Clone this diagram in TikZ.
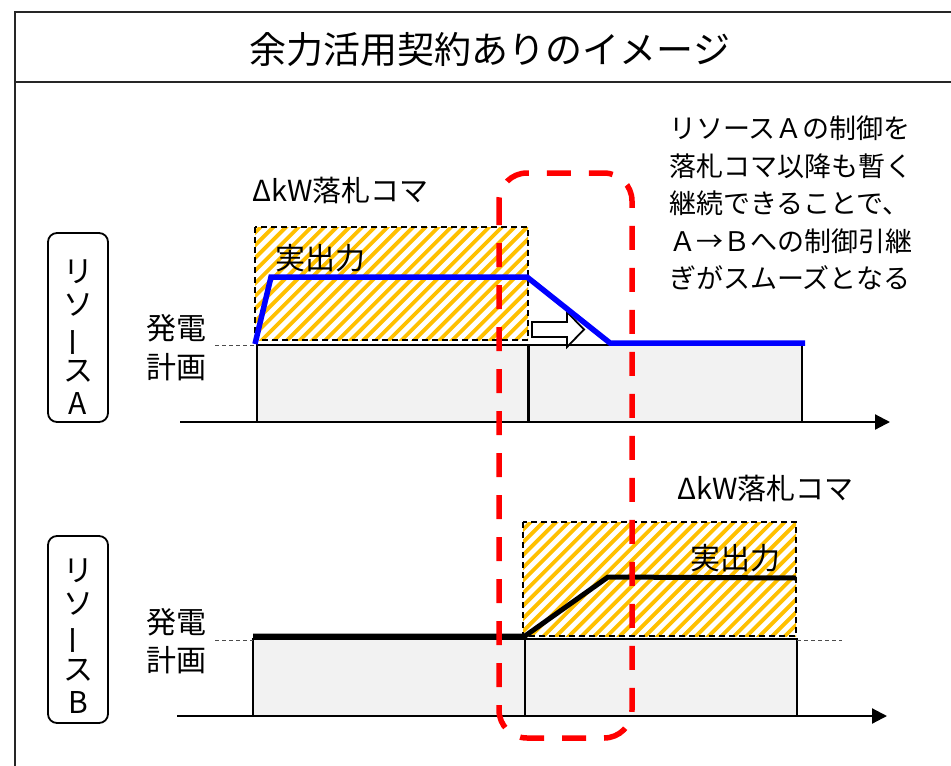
\documentclass[tikz,border=0pt]{standalone}
\usepackage{fontspec}
\setmainfont{Noto Sans CJK JP}
\usetikzlibrary{arrows.meta}
\definecolor{boxgray}{HTML}{F2F2F2}
\definecolor{hatchorange}{HTML}{FFC000}
\definecolor{ctrlblue}{HTML}{0000FF}
\definecolor{focusred}{HTML}{FF0000}
\begin{document}
\begin{tikzpicture}[x=1pt,y=-1pt,
  frameline/.style={line width=2pt, draw=black!85},
  planbox/.style={draw=black, line width=2pt, fill=boxgray},
  hatchline/.style={draw=hatchorange, line width=3.8pt},
  hatchframe/.style={draw=black, line width=1.8pt, dash pattern=on 6pt off 4pt},
  planline/.style={draw=black!70, line width=1pt, dash pattern=on 4pt off 3pt},
  axisline/.style={draw=black, line width=2.2pt, -{Triangle[length=15pt,width=15pt]}},
  outline/.style={draw=ctrlblue, line width=5.5pt, line join=miter},
  outlineb/.style={draw=black, line width=5pt, line join=miter},
  focus/.style={draw=focusred, line width=5.5pt, dash pattern=on 24pt off 18pt, rounded corners=28pt},
  resbox/.style={draw=black, line width=1.8pt, rounded corners=9pt, minimum width=60pt, inner sep=0pt},
  vlab/.style={font=\fontsize{30}{33}\selectfont, align=center, inner sep=0pt},
  lbl/.style={font=\fontsize{30}{38.5}\selectfont, align=center, inner sep=0pt},
  bidlbl/.style={font=\fontsize{29}{32}\selectfont, inner sep=0pt, anchor=west},
  outlbl/.style={font=\fontsize{30}{32}\selectfont, inner sep=0pt, anchor=west},
  note/.style={font=\fontsize{27}{37.5}\selectfont, align=left, inner sep=0pt, anchor=west},
  titlefont/.style={font=\fontsize{37}{40}\selectfont, inner sep=0pt}
]
\useasboundingbox (0,0) rectangle (951,766);
\fill[white] (0,0) rectangle (951,766);

% frame
\draw[frameline] (951,12) -- (15,12) -- (15,766);
\draw[frameline] (15,82) -- (951,82);
\node[titlefont] (title) at (490,50) {余力活用契約ありのイメージ};

% ---------------- Resource A ----------------
\node[resbox, minimum height=189pt] (boxa) at (78,327.5) {};
\node[vlab] (laba) at (78,337.5) {リ\\ソ\\\smash{\rotatebox[origin=c]{90}{ー}}\\ス\\A};
\node[lbl] (plana) at (176,347.5) {発電\\計画};

\draw[planbox] (257,345) rectangle (528.5,422);
\draw[planbox] (528.5,345) rectangle (802,422);
\draw[black, line width=3.2pt] (528.5,345) -- (528.5,422);

\begin{scope}
  \clip (255,227) rectangle (528,340);
  \foreach \i in {0,12.7,...,420} \draw[hatchline] (130+\i,345) -- ++(130,-130);
\end{scope}
\draw[hatchframe] (255,227) rectangle (528,340);
\node[bidlbl] (bida) at (252,190) {ΔkW落札コマ};
\node[outlbl] (outa) at (275,258) {実出力};

\coordinate (pa0) at (215,345);
\coordinate (pa1) at (257,345);
\draw[planline] (pa0) -- (pa1);

\draw[fill=white, draw=black, line width=1.8pt, line join=miter]
  (532,322) -- (567,322) -- (567,312) -- (584,329.5) -- (567,347) -- (567,337) -- (532,337) -- cycle;

\coordinate (a0) at (255,344);
\coordinate (a1) at (271,277);
\coordinate (a2) at (527,277);
\coordinate (a3) at (610,343);
\coordinate (a4) at (805,343);
\draw[outline] (a0) -- (a1) -- (a2) -- (a3) -- (a4);

\coordinate (axa0) at (180,422);
\coordinate (axa1) at (890,422);
\draw[axisline] (axa0) -- (axa1);

\node[note] (notetext) at (669,203) {リソースＡの制御を\\落札コマ以降も暫く\\継続できることで、\\Ａ→Ｂへの制御引継\\ぎがスムーズとなる};

% ---------------- Resource B ----------------
\node[resbox, minimum height=187pt] (boxb) at (78,629.5) {};
\node[vlab] (labb) at (78,636) {リ\\ソ\\\smash{\rotatebox[origin=c]{90}{ー}}\\ス\\B};
\node[lbl] (planb) at (176,641) {発電\\計画};

\draw[planbox] (253,639) rectangle (525,716);
\draw[planbox] (525,639) rectangle (797,716);

\begin{scope}
  \clip (523,522) rectangle (796,636);
  \foreach \i in {0,12.7,...,420} \draw[hatchline] (400+\i,640) -- ++(130,-130);
\end{scope}
\draw[hatchframe] (523,522) rectangle (796,636);
\node[bidlbl] (bidb) at (677,488) {ΔkW落札コマ};
\node[outlbl] (outb) at (690,558) {実出力};

\coordinate (pb0) at (215,640);
\coordinate (pb1) at (253,640);
\coordinate (pb2) at (797,640);
\coordinate (pb3) at (842,640);
\draw[planline] (pb0) -- (pb1);
\draw[planline] (pb2) -- (pb3);

\coordinate (b0) at (253,636);
\coordinate (b1) at (525,636);
\coordinate (b2) at (608,577);
\coordinate (b3) at (796,578);
\draw[outlineb] (b0) -- (b1) -- (b2) -- (b3);

\coordinate (axb0) at (177,716);
\coordinate (axb1) at (887,716);
\draw[axisline] (axb0) -- (axb1);

% focus window
\draw[focus] (499,173) rectangle (632,738);
\end{tikzpicture}
\end{document}
